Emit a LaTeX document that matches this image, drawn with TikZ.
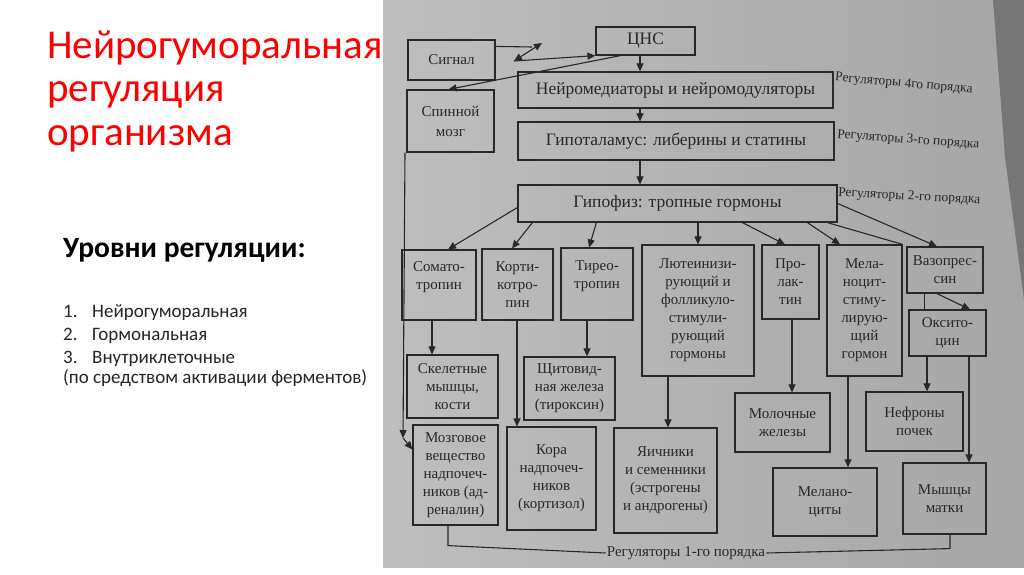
\documentclass[tikz,border=0pt]{standalone}
\usepackage{fontspec}
\setmainfont{Carlito}
\newfontfamily\photofont{Liberation Serif}
\usetikzlibrary{arrows.meta}
\definecolor{titlered}{RGB}{255,0,0}
\definecolor{listink}{RGB}{38,38,38}
\definecolor{ink}{RGB}{40,40,40}
\definecolor{paperL}{RGB}{190,190,190}
\definecolor{paperR}{RGB}{166,166,166}
\definecolor{shadowgray}{RGB}{118,118,118}
\tikzset{
  box/.style={draw=ink, line width=1.2pt, text=ink, align=center, inner sep=1pt, font=\photofont\fontsize{15}{18}\selectfont},
  bigbox/.style={box, font=\photofont\fontsize{17.5}{20}\selectfont},
  ln/.style={draw=ink, line width=1.1pt},
  arr/.style={ln, -{Triangle[length=8pt,width=7pt]}},
  darr/.style={ln, {Triangle[length=8pt,width=7pt]}-{Triangle[length=8pt,width=7pt]}},
  lvl/.style={text=ink, inner sep=0pt, anchor=west, font=\photofont\fontsize{13.5}{15}\selectfont},
  ttl/.style={text=titlered, inner sep=0pt, anchor=base west, font=\fontsize{41}{44}\selectfont},
  lst/.style={text=listink, inner sep=0pt, anchor=base west, font=\fontsize{19}{22}\selectfont},
}
\begin{document}
\begin{tikzpicture}[x=1pt,y=-1pt]
\useasboundingbox (0,0) rectangle (1024,574);
\fill[white] (0,0) rectangle (1024,574);
% photo background
\shade[left color=paperL, right color=paperR] (383,0) rectangle (1024,567);
\fill[shadowgray] (993,0) -- (1024,0) -- (1024,300) -- (1013,217) -- (1005,157) -- cycle;

% slide text
\node[ttl] (t1) at (47,58) {Нейрогуморальная};
\node[ttl] (t2) at (47,101.5) {регуляция};
\node[ttl] (t3) at (47,145) {организма};
\node[anchor=base west, inner sep=0pt, font=\bfseries\fontsize{29.5}{34}\selectfont] (lvhead) at (63,257) {Уровни регуляции:};
\node[lst] (n1) at (63,317) {1.}; \node[lst] (i1) at (92,317) {Нейрогуморальная};
\node[lst] (n2) at (63,340) {2.}; \node[lst] (i2) at (92,340) {Гормональная};
\node[lst] (n3) at (63,363) {3.}; \node[lst] (i3) at (92,363) {Внутриклеточные};
\node[lst] (i4) at (63,383) {(по средством активации ферментов)};

% top part
\node[box, minimum width=87pt, minimum height=40pt] (signal) at (451.5,60) {Сигнал};
\node[bigbox, minimum width=99pt, minimum height=28pt] (cns) at (645.5,41) {ЦНС};
\node[box, minimum width=87pt, minimum height=62pt, font=\photofont\fontsize{15}{20}\selectfont] (spinal) at (450.5,121) {Спинной\\мозг};
\node[bigbox, minimum width=315pt, minimum height=36pt] (neuro) at (675.5,90) {Нейромедиаторы и нейромодуляторы};
\node[bigbox, minimum width=316pt, minimum height=38pt] (hypoth) at (676,141) {Гипоталамус: либерины и статины};
\node[bigbox, minimum width=319pt, minimum height=37pt] (hypoph) at (677.5,203.5) {Гипофиз: тропные гормоны};

\node[lvl, rotate=-5] (l4) at (835,78) {Регуляторы 4го порядка};
\node[lvl, rotate=-4] (l3) at (837,135) {Регуляторы 3-го порядка};
\node[lvl, rotate=-3] (l2) at (838,193) {Регуляторы 2-го порядка};

% tropic hormones
\node[box, minimum width=74pt, minimum height=70pt] (somato) at (439,285) {Сомато-\\тропин\\\mbox{}};
\node[box, minimum width=71pt, minimum height=71pt] (cortico) at (517.5,284.5) {Корти-\\котро-\\пин};
\node[box, minimum width=72pt, minimum height=72pt] (thyreo) at (597,284) {Тирео-\\тропин\\\mbox{}};
\node[box, minimum width=112pt, minimum height=131pt] (lut) at (698,310.5) {Лютеинизи-\\рующий и\\фолликуло-\\стимули-\\рующий\\гормоны};
\node[box, minimum width=57pt, minimum height=74pt] (prol) at (790.5,282) {Про-\\лак-\\тин};
\node[box, minimum width=75pt, minimum height=131pt] (melst) at (864.5,310.5) {Мела-\\ноцит-\\стиму-\\лирую-\\щий\\гормон};
\node[box, minimum width=76pt, minimum height=46pt] (vaso) at (945,270) {Вазопрес-\\син};
\node[box, minimum width=77pt, minimum height=46pt] (oxy) at (947.5,333) {Оксито-\\цин};

% targets
\node[box, minimum width=91pt, minimum height=63pt] (skel) at (452.5,386.5) {Скелетные\\мышцы,\\кости};
\node[box, minimum width=91pt, minimum height=63pt] (thyr) at (569.5,388.5) {Щитовид-\\ная железа\\(тироксин)};
\node[box, minimum width=85pt, minimum height=100pt] (medul) at (455.5,475) {Мозговое\\вещество\\надпочеч-\\ников (ад-\\реналин)};
\node[box, minimum width=89pt, minimum height=103pt] (cortex) at (551.5,478.5) {Кора\\надпочеч-\\ников\\(кортизол)};
\node[box, minimum width=103pt, minimum height=105pt] (ovary) at (665.5,480.5) {Яичники\\и семенники\\(эстрогены\\и андрогены)};
\node[box, minimum width=95pt, minimum height=59pt] (milk) at (782.5,422.5) {Молочные\\железы};
\node[box, minimum width=97pt, minimum height=59pt] (nephr) at (914.5,421.5) {Нефроны\\почек};
\node[box, minimum width=104pt, minimum height=68pt] (melano) at (825,502) {Мелано-\\циты};
\node[box, minimum width=83pt, minimum height=71pt] (uterus) at (944.5,498.5) {Мышцы\\матки};

\node[text=ink, inner sep=1pt, font=\photofont\fontsize{15}{17}\selectfont] (r1) at (686,553) {Регуляторы 1-го порядка};

% helper coordinates
\coordinate (ax) at (640,0);
\coordinate (xS) at (432,0);
\coordinate (xC) at (517,0);
\coordinate (xT) at (587,0);
\coordinate (xL) at (668,0);
\coordinate (xP) at (792,0);
\coordinate (xMs) at (848,0);
\coordinate (xN) at (927,0);
\coordinate (xU) at (969,0);
\coordinate (xSp) at (405,0);
\coordinate (bend) at (403,438);
\coordinate (sigA) at (532,47);
\coordinate (dA) at (542,43);
\coordinate (dB) at (514,61);

% signal / CNS
\draw[ln] ([yshift=-7pt]signal.north east) -- (sigA);
\draw[darr] (dB) -- (dA);
\draw[arr] (dB) -- (cns.south west);
\draw[arr] ([xshift=-25pt]cns.south) -- ([xshift=-2pt]spinal.north);

% main axis
\draw[arr] (cns.south -| ax) -- (neuro.north -| ax);
\draw[arr] (neuro.south -| ax) -- (hypoth.north -| ax);
\draw[arr] (hypoth.south -| ax) -- (hypoph.north -| ax);

% hypophysis to tropic hormones
\draw[arr] ([yshift=-4pt]hypoph.west) -- ([xshift=9pt]somato.north);
\draw[arr] ([xshift=15pt]hypoph.south west) -- ([xshift=-5.5pt]cortico.north);
\draw[arr] ([xshift=79pt]hypoph.south west) -- ([xshift=-8pt]thyreo.north);
\draw[arr] (hypoph.south -| lut.north) -- (lut.north);
\draw[arr] ([xshift=225pt]hypoph.south west) -- ([xshift=-5.5pt]prol.north);
\draw[arr] ([xshift=290pt]hypoph.south west) -- ([xshift=-24.5pt]melst.north);
\draw[ln] ([xshift=310pt]hypoph.south west) -- (melst.north east);
\draw[arr] (hypoph.east) -- ([xshift=-8pt]vaso.north);
\draw[arr] ([xshift=-8pt]vaso.south) -- ([xshift=22.5pt]oxy.north);
\draw[ln] ([xshift=18pt]vaso.south west) -- ([xshift=16pt]oxy.north west);

% tropic hormones to targets
\draw[arr] (somato.south -| xS) -- (skel.north -| xS);
\draw[arr] (cortico.south -| xC) -- (cortex.north -| xC);
\draw[arr] (thyreo.south -| xT) -- (thyr.north -| xT);
\draw[arr] (lut.south -| xL) -- (ovary.north -| xL);
\draw[arr] (prol.south -| xP) -- (milk.north -| xP);
\draw[arr] (melst.south -| xMs) -- (melano.north -| xMs);
\draw[arr] (oxy.south -| xN) -- (nephr.north -| xN);
\draw[arr] (oxy.south -| xU) -- (uterus.north -| xU);

% spinal cord to adrenal medulla
\draw[arr] (spinal.south -| xSp) -- (bend);
\draw[arr] (bend) -- ([yshift=-25pt]medul.north west);

% first-order bracket
\draw[ln] ([xshift=-7.5pt]medul.south) -- ([xshift=-7.5pt,yshift=-20pt]medul.south) -- (r1.west);
\draw[ln] (r1.east) -- ([xshift=5.5pt,yshift=-14pt]uterus.south) -- ([xshift=5.5pt]uterus.south);
\end{tikzpicture}
\end{document}
